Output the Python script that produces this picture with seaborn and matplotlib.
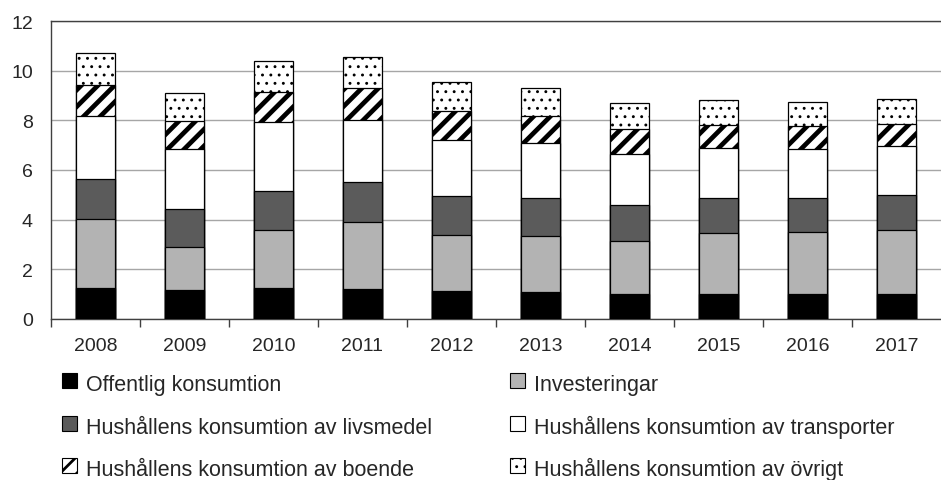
import numpy as np
import pandas as pd
import matplotlib
matplotlib.use('Agg')
import matplotlib.pyplot as plt
import seaborn as sns
from matplotlib.patches import Rectangle

years = ['2008', '2009', '2010', '2011', '2012', '2013', '2014', '2015', '2016', '2017']

offentlig   = [1.24, 1.17, 1.25, 1.21, 1.13, 1.10, 1.01, 1.02, 1.02, 1.01]
invest      = [2.79, 1.72, 2.35, 2.71, 2.26, 2.25, 2.14, 2.45, 2.47, 2.58]
livsmedel   = [1.62, 1.55, 1.57, 1.59, 1.56, 1.52, 1.43, 1.40, 1.39, 1.40]
transporter = [2.52, 2.41, 2.76, 2.51, 2.25, 2.20, 2.06, 2.03, 1.97, 1.97]
boende      = [1.27, 1.11, 1.21, 1.28, 1.17, 1.12, 1.03, 0.92, 0.92, 0.90]
ovrigt      = [1.29, 1.15, 1.25, 1.24, 1.16, 1.11, 1.05, 1.00, 0.97, 1.02]

labels = [
    'Offentlig konsumtion',
    'Investeringar',
    'Hushållens konsumtion av livsmedel',
    'Hushållens konsumtion av transporter',
    'Hushållens konsumtion av boende',
    'Hushållens konsumtion av övrigt',
]
series = [offentlig, invest, livsmedel, transporter, boende, ovrigt]
colors = ['black', '#b3b3b3', '#5b5b5b', 'white', 'white', 'white']
hatches = [None, None, None, None, '//', '..']
hatch_lw = [1.0, 1.0, 1.0, 1.0, 3.4, 0.9]

sns.set_style('white')
plt.rcParams['font.family'] = ['Liberation Sans', 'DejaVu Sans']

W, H = 941, 481
fig = plt.figure(figsize=(W / 100, H / 100), dpi=100)
ax = fig.add_axes([0.054, 0.335, 0.946, 0.619])

# stacked bars: draw cumulative totals from the top layer down
cum = np.cumsum(np.array(series), axis=0)
for i in range(len(series) - 1, -1, -1):
    plt.rcParams['hatch.linewidth'] = hatch_lw[i]  # read when the patch is made
    df = pd.DataFrame({'year': years, 'value': cum[i]})
    sns.barplot(data=df, x='year', y='value', ax=ax, color=colors[i],
                width=0.44, edgecolor='black', linewidth=0.9,
                hatch=hatches[i], saturation=1, zorder=3)

ax.set_ylim(0, 12)
ax.set_xlim(-0.5, 9.5)
ax.set_yticks(range(0, 13, 2))
ax.set_xlabel('')
ax.set_ylabel('')
ax.yaxis.grid(True, color='#a6a6a6', linewidth=1.0, zorder=0)
ax.set_axisbelow(True)

for s in ['left', 'bottom', 'top']:
    ax.spines[s].set_color('#404040')
    ax.spines[s].set_linewidth(1.0)
ax.spines['right'].set_visible(False)

# tick marks between categories
ax.set_xticks(np.arange(-0.5, 9.5, 1.0), minor=True)
ax.tick_params(axis='x', which='minor', length=6, color='#404040', width=1, direction='out', bottom=True)
ax.tick_params(axis='x', which='major', length=0, labelsize=14, pad=13)
ax.tick_params(axis='y', length=0, labelsize=14, pad=13)

# legend, two columns laid out row by row (pixel positions from top-left)
col_x = [62, 510]
row_top = [374, 417, 459]
box = 15
for k in range(len(labels)):
    r, c = divmod(k, 2)
    plt.rcParams['hatch.linewidth'] = min(hatch_lw[k], 2.0)
    x0 = col_x[c] / W
    y0 = 1 - (row_top[r] + box) / H
    fig.add_artist(Rectangle((x0, y0), box / W, box / H, transform=fig.transFigure,
                             facecolor=colors[k], edgecolor='black', linewidth=0.8,
                             hatch=hatches[k]))
    fig.text((col_x[c] + box + 9) / W, 1 - (row_top[r] + 17) / H, labels[k],
             fontsize=15.5, va='baseline', ha='left')

fig.savefig('out.png', dpi=100)
